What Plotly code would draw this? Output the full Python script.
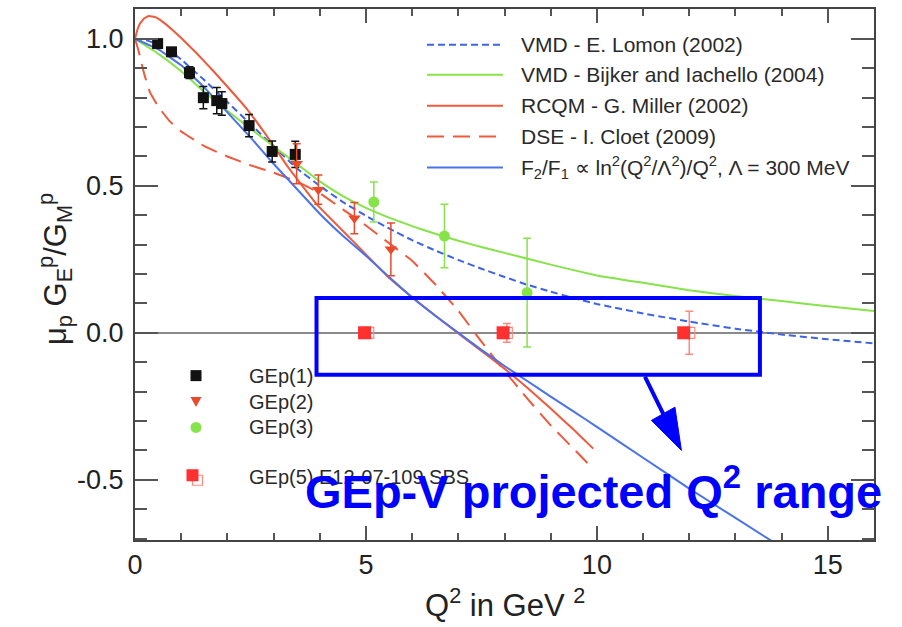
import plotly.graph_objects as go

# ---------------- model curves ----------------
q_lomon = [0, 0.25, 0.5, 0.75, 1.0, 1.5, 2.0, 2.5, 3.0, 3.5, 4.0, 4.5, 5.0, 5.5, 6.0, 6.5,
           7.0, 7.5, 8.0, 8.5, 9.0, 9.5, 10, 11, 12, 13, 14, 15, 16]
r_lomon = [1.0, 0.995, 0.982, 0.96, 0.93, 0.86, 0.785, 0.71, 0.635, 0.56, 0.5, 0.445, 0.398,
           0.355, 0.315, 0.28, 0.248, 0.218, 0.19, 0.163, 0.14, 0.118, 0.098, 0.066, 0.038,
           0.014, -0.006, -0.022, -0.036]

q_bijker = [0, 0.25, 0.5, 1.0, 1.5, 2.0, 2.5, 3.0, 3.5, 4.0, 4.5, 5.0, 5.5, 6.0, 6.5, 7.0,
            7.5, 8.0, 9.0, 10, 11, 12, 13, 14, 15, 16]
r_bijker = [1.0, 0.975, 0.95, 0.89, 0.82, 0.755, 0.695, 0.635, 0.575, 0.515, 0.465, 0.425,
            0.392, 0.363, 0.337, 0.313, 0.292, 0.272, 0.232, 0.195, 0.17, 0.145, 0.125,
            0.108, 0.09, 0.074]

q_miller = [0, 0.05, 0.1, 0.2, 0.3, 0.45, 0.6, 0.8, 1.0, 1.33, 1.7, 2.06, 2.42, 2.92, 3.33,
            3.93, 4.65, 5.5, 6.1, 7.0, 7.5, 8.0, 8.5, 9.0, 9.5, 9.92]
r_miller = [1.0, 1.03, 1.05, 1.07, 1.078, 1.073, 1.058, 1.032, 1.003, 0.952, 0.89, 0.827,
            0.762, 0.655, 0.56, 0.438, 0.323, 0.187, 0.108, -0.002, -0.062, -0.122, -0.188,
            -0.258, -0.33, -0.394]

q_cloet = [0, 0.05, 0.1, 0.2, 0.32, 0.5, 0.75, 1.0, 1.5, 2.0, 2.5, 3.0, 3.5, 4.0, 4.5, 5.0,
           5.5, 6.0, 6.5, 7.0, 7.5, 8.0, 8.5, 9.0, 9.5, 9.9]
r_cloet = [1.0, 0.975, 0.945, 0.88, 0.82, 0.77, 0.72, 0.685, 0.635, 0.6, 0.57, 0.545, 0.515,
           0.475, 0.42, 0.365, 0.305, 0.245, 0.165, 0.075, -0.03, -0.13, -0.225, -0.315,
           -0.395, -0.46]

q_f2f1 = [0, 0.5, 1.0, 1.5, 2.0, 2.5, 3.0, 3.5, 4.0, 4.5, 5.0, 5.5, 6.0, 6.5, 7.0, 7.5, 8.0,
          8.5, 9.0, 9.5, 10, 11, 12, 13, 14]
r_f2f1 = [1.0, 0.965, 0.91, 0.835, 0.75, 0.665, 0.575, 0.49, 0.405, 0.33, 0.262, 0.19, 0.12,
          0.058, 0.0, -0.058, -0.113, -0.165, -0.217, -0.268, -0.32, -0.425, -0.53, -0.63,
          -0.73]

# ---------------- data points ----------------
q_gep1 = [0.49, 0.79, 1.18, 1.48, 1.77, 1.88, 2.47, 2.97, 3.47]
r_gep1 = [0.984, 0.956, 0.885, 0.80, 0.79, 0.78, 0.705, 0.617, 0.607]
e_gep1 = [0.01, 0.012, 0.02, 0.038, 0.045, 0.04, 0.038, 0.036, 0.045]

q_gep2 = [3.5, 3.97, 4.75, 5.54]
r_gep2 = [0.575, 0.487, 0.39, 0.284]
e_gep2 = [0.068, 0.05, 0.053, 0.09]

q_gep3 = [5.17, 6.7, 8.49]
r_gep3 = [0.445, 0.329, 0.137]
e_gep3 = [0.068, 0.108, 0.185]

q_gep5 = [4.97, 7.97, 11.88]
q_gep5_open = [5.05, 8.05, 12.0]
r_gep5 = [0.0, 0.0, 0.0]
e_gep5 = [0.018, 0.032, 0.073]

x_ticks = [0, 5, 10, 15]
x_ticklabels = ["0", "5", "10", "15"]
y_ticks = [-0.5, 0.0, 0.5, 1.0]
y_ticklabels = ["-0.5", "0.0", "0.5", "1.0"]

legend_lines = ["VMD - E. Lomon (2002)",
                "VMD - Bijker and Iachello (2004)",
                "RCQM - G. Miller (2002)",
                "DSE - I. Cloet (2009)",
                "F<sub>2</sub>/F<sub>1</sub> ∝ ln<sup>2</sup>(Q<sup>2</sup>/Λ<sup>2</sup>)/Q<sup>2</sup>, Λ = 300 MeV"]
legend_points = ["GEp(1)", "GEp(2)", "GEp(3)", "GEp(5) E12-07-109 SBS"]

# ---------------- styling ----------------
FONT = "Liberation Sans, Arial, Helvetica, sans-serif"
C_LOMON = "#3d63e6"
C_BIJKER = "#86e34a"
C_MILLER = "#ef5a3c"
C_CLOET = "#ef5a3c"
C_F2F1 = "#4a72ea"
C_G1 = "#111111"
C_G2 = "#e84a2c"
C_G3 = "#86e34a"
C_G5 = "#ff3030"
C_G5O = "#ff8a80"
C_BOX = "#0000ff"

W, H = 902, 627
L, R, T, B = 135, 28, 7, 87
PW, PH = W - L - R, H - T - B


def xp(px):
    return (px - L) / PW


def yp(py):
    return (H - B - py) / PH


fig = go.Figure()

curves = [
    (q_lomon, r_lomon, C_LOMON, "7px,4px"),
    (q_bijker, r_bijker, C_BIJKER, "solid"),
    (q_miller, r_miller, C_MILLER, "solid"),
    (q_cloet, r_cloet, C_CLOET, "17px,9px"),
    (q_f2f1, r_f2f1, C_F2F1, "solid"),
]
for qx, ry, col, dash in curves:
    fig.add_trace(go.Scatter(x=qx, y=ry, mode="lines", showlegend=False,
                             line=dict(color=col, width=2, dash=dash, shape="spline",
                                       smoothing=0.25),
                             hoverinfo="skip"))

fig.add_trace(go.Scatter(x=q_gep1, y=r_gep1, mode="markers", showlegend=False,
                         marker=dict(symbol="square", size=11, color=C_G1),
                         error_y=dict(type="data", array=e_gep1, color=C_G1,
                                      thickness=1.5, width=4)))
fig.add_trace(go.Scatter(x=q_gep2, y=r_gep2, mode="markers", showlegend=False,
                         marker=dict(symbol="triangle-down", size=11, color=C_G2),
                         error_y=dict(type="data", array=e_gep2, color=C_G2,
                                      thickness=1.5, width=4)))
fig.add_trace(go.Scatter(x=q_gep3, y=r_gep3, mode="markers", showlegend=False,
                         marker=dict(symbol="circle", size=11, color=C_G3),
                         error_y=dict(type="data", array=e_gep3, color=C_G3,
                                      thickness=1.5, width=4)))
fig.add_trace(go.Scatter(x=q_gep5_open, y=r_gep5, mode="markers", showlegend=False,
                         marker=dict(symbol="square-open", size=11, color=C_G5O,
                                     line=dict(width=1.2)),
                         error_y=dict(type="data", array=e_gep5, color=C_G5O,
                                      thickness=1.5, width=4)))
fig.add_trace(go.Scatter(x=q_gep5, y=r_gep5, mode="markers", showlegend=False,
                         marker=dict(symbol="square", size=13, color=C_G5)))

shapes = []
annotations = []

# projected range box and arrow
shapes.append(dict(type="rect", xref="x", yref="y", x0=3.93, x1=13.53, y0=-0.143, y1=0.118,
                   line=dict(color=C_BOX, width=4)))
shapes.append(dict(type="line", xref="x", yref="y", x0=11.04, y0=-0.149, x1=11.45, y1=-0.28,
                   line=dict(color=C_BOX, width=4)))
shapes.append(dict(type="path", xref="x", yref="y",
                   path="M 11.18,-0.298 L 11.69,-0.253 L 11.83,-0.40 Z",
                   fillcolor=C_BOX, line=dict(color=C_BOX, width=1)))

# top-right legend (lines)
rows_y = [43, 73, 104, 135, 166]
leg_styles = [(C_LOMON, "7px,4px"), (C_BIJKER, "solid"), (C_MILLER, "solid"),
              (C_CLOET, "17px,9px"), (C_F2F1, "solid")]
for (col, dash), ry, txt in zip(leg_styles, rows_y, legend_lines):
    shapes.append(dict(type="line", xref="paper", yref="paper", x0=xp(427), x1=xp(503),
                       y0=yp(ry), y1=yp(ry), line=dict(color=col, width=2, dash=dash)))
    annotations.append(dict(xref="paper", yref="paper", x=xp(519), y=yp(ry), text=txt,
                            showarrow=False, xanchor="left", yanchor="middle",
                            font=dict(family=FONT, size=21, color="#2a2a2a")))

# bottom-left legend (markers)
pts_y = [375, 401, 427, 477]
mx = xp(196)
shapes.append(dict(type="rect", xref="paper", yref="paper", xsizemode="pixel",
                   ysizemode="pixel", xanchor=mx, yanchor=yp(375), x0=-5.5, x1=5.5,
                   y0=-5.5, y1=5.5, fillcolor=C_G1, line=dict(width=0)))
shapes.append(dict(type="path", xref="paper", yref="paper", xsizemode="pixel",
                   ysizemode="pixel", xanchor=mx, yanchor=yp(401),
                   path="M -5.5,4.5 L 5.5,4.5 L 0,-5.5 Z", fillcolor=C_G2,
                   line=dict(width=0)))
shapes.append(dict(type="circle", xref="paper", yref="paper", xsizemode="pixel",
                   ysizemode="pixel", xanchor=mx, yanchor=yp(427), x0=-5.5, x1=5.5,
                   y0=-5.5, y1=5.5, fillcolor=C_G3, line=dict(width=0)))
shapes.append(dict(type="rect", xref="paper", yref="paper", xsizemode="pixel",
                   ysizemode="pixel", xanchor=xp(197.5), yanchor=yp(480), x0=-5, x1=5,
                   y0=-5, y1=5, line=dict(color=C_G5O, width=1.2)))
shapes.append(dict(type="rect", xref="paper", yref="paper", xsizemode="pixel",
                   ysizemode="pixel", xanchor=xp(192.5), yanchor=yp(475), x0=-6, x1=6,
                   y0=-6, y1=6, fillcolor=C_G5, line=dict(width=0)))
for py, txt in zip(pts_y, legend_points):
    annotations.append(dict(xref="paper", yref="paper", x=xp(247), y=yp(py), text=txt,
                            showarrow=False, xanchor="left", yanchor="middle",
                            font=dict(family=FONT, size=20, color="#2a2a2a")))

# axis titles
annotations.append(dict(xref="paper", yref="paper", x=xp(505), y=yp(603),
                        text="Q<sup>2</sup> in GeV <sup>2</sup>", showarrow=False,
                        xanchor="center", yanchor="middle",
                        font=dict(family=FONT, size=31, color="#222222")))
annotations.append(dict(xref="paper", yref="paper", x=xp(55), y=yp(268),
                        text="μ<sub>p</sub> G<sub>E</sub><sup>p</sup>/G<sub>M</sub><sup>p</sup>",
                        showarrow=False, textangle=-90, xanchor="center", yanchor="middle",
                        font=dict(family=FONT, size=31, color="#222222")))

# big overlay text
annotations.append(dict(xref="paper", yref="paper", x=xp(303), y=yp(520),
                        text="<b>GEp-V projected Q<sup>2</sup> range</b>", showarrow=False,
                        xanchor="left", yanchor="bottom",
                        font=dict(family=FONT, size=47, color=C_BOX)))

axis_common = dict(showline=True, linecolor="#444444", linewidth=2, mirror="ticks",
                   ticks="inside", tickcolor="#555555", tickwidth=1.5, showgrid=False,
                   tickfont=dict(family=FONT, size=27, color="#222222"))

fig.update_layout(
    width=W, height=H,
    margin=dict(l=L, r=R, t=T, b=B, pad=0),
    paper_bgcolor="white", plot_bgcolor="white",
    showlegend=False,
    shapes=shapes, annotations=annotations,
    xaxis=dict(range=[0, 16], tickvals=x_ticks, ticktext=x_ticklabels, ticklen=14,
               zeroline=False,
               minor=dict(dtick=1, tick0=0, ticks="inside", ticklen=7,
                          tickcolor="#555555", tickwidth=1.5),
               **axis_common),
    yaxis=dict(range=[-0.705, 1.1017], tickvals=y_ticks, ticktext=y_ticklabels, ticklen=23,
               zeroline=True, zerolinecolor="#8a8a8a", zerolinewidth=1.5,
               ticklabelstandoff=4,
               minor=dict(dtick=0.1, tick0=0, ticks="inside", ticklen=12,
                          tickcolor="#555555", tickwidth=1.5),
               **axis_common),
)

fig.write_html("out.html")
